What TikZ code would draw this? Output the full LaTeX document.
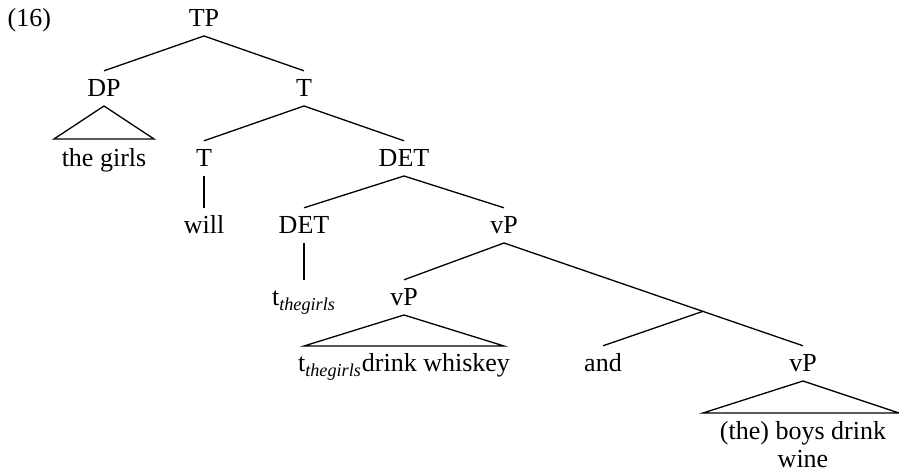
\documentclass[tikz,border=0pt]{standalone}
\usepackage{fontspec}
\setmainfont{Liberation Serif}
\usetikzlibrary{calc}

\begin{document}
\begin{tikzpicture}[x=0.5pt, y=-0.5pt, line width=0.65pt,
        font=\fontsize{13}{14}\selectfont,
        lbl/.style={inner sep=0pt, outer ysep=4.5pt, text height=8.6pt, text depth=0pt, anchor=base}]
        \useasboundingbox (0,0) rectangle (899,474);

        \node[anchor=base west, inner sep=0pt] at (7,27) (ex) {(16)};

        \node[lbl] at (204,27) (TP) {TP};
        \node[lbl] at (104,97) (DP) {DP};
        \node[lbl] at (304,97) (T1) {T};
        \node[lbl] at (104,167) (girls) {the girls};
        \node[lbl] at (204,167) (T2) {T};
        \node[lbl] at (404,167) (DET1) {DET};
        \node[lbl] at (204,234) (will) {will};
        \node[lbl] at (304,234) (DET2) {DET};
        \node[lbl] at (504,234) (vP1) {vP};
        \node[lbl] at (304,306) (trace) {t\textsubscript{\textit{thegirls}}};
        \node[lbl] at (404,306) (vP2) {vP};
        \node[lbl] at (404,372) (whiskey) {t\textsubscript{\textit{thegirls}}drink whiskey};
        \node[lbl] at (603,372) (and) {and};
        \node[lbl] at (803,372) (vP3) {vP};
        \node[anchor=north, inner sep=0pt, align=center] at (803,421) (wine) {(the) boys drink\\wine};

        \draw (TP.south) -- (DP.north);
        \draw (TP.south) -- (T1.north);
        \draw (DP.south) -- ++(-50,33) -- ++(100,0) -- cycle;

        \draw (T1.south) -- (T2.north);
        \draw (T1.south) -- (DET1.north);
        \draw (T2.south) -- (will.north);

        \draw (DET1.south) -- (DET2.north);
        \draw (DET1.south) -- (vP1.north);
        \draw (DET2.south) -- (trace.north);

        \draw (vP1.south) -- (vP2.north);
        \draw (vP1.south) -- (vP3.north);
        \draw (vP2.south) -- ++(-100,31) -- ++(200,0) -- cycle;

        \coordinate (conj) at ($(vP1.south)!0.665!(vP3.north)$);
        \draw (conj) -- (and.north);
        \draw (vP3.south) -- ++(-100,32) -- ++(196,0) -- cycle;
    \end{tikzpicture}
\end{document}
